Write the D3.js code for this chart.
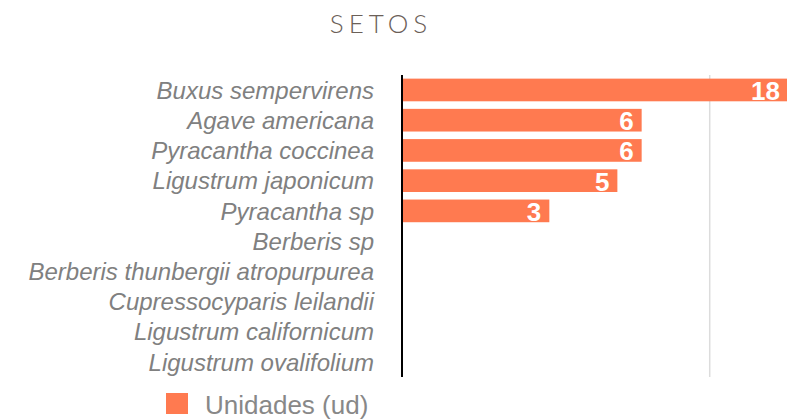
<!DOCTYPE html>
<html><head><meta charset="utf-8">
<script src="https://cdn.jsdelivr.net/npm/d3@7"></script>
<style>body{margin:0;background:#fff}svg{display:block}</style>
</head><body>
<div id="chart"></div>
<script>
const title = "SETOS";
const categories = ["Buxus sempervirens","Agave americana","Pyracantha coccinea","Ligustrum japonicum","Pyracantha sp","Berberis sp","Berberis thunbergii atropurpurea","Cupressocyparis leilandii","Ligustrum californicum","Ligustrum ovalifolium"];
const values = [18,6,6,5,3,null,null,null,null,null];
const gridTicks = [10];
const seriesName = "Unidades (ud)";

const W = 787, H = 420;
const svg = d3.select("#chart").append("svg").attr("width", W).attr("height", H);
const m = {left: 403, top: 75, bottom: 377};
const x = d3.scaleLog().domain([1, 10]).range([m.left, 709.7]);
const y = d3.scaleBand().domain(categories).range([m.top, m.bottom]).paddingInner(0.25).paddingOuter(0.12);
const color = "#ff7a50";

svg.append("text").attr("x", 381).attr("y", 33).attr("text-anchor","middle")
  .attr("font-family","Lato, sans-serif").attr("font-weight",300).attr("font-size",26)
  .attr("letter-spacing","5px").attr("fill","#6b6058").text(title);

svg.append("g").selectAll("line").data(gridTicks).join("line")
  .attr("x1", d=>x(d)).attr("x2", d=>x(d)).attr("y1", m.top).attr("y2", m.bottom)
  .attr("stroke","#dcdcdc").attr("stroke-width",1.5);

const data = categories.map((c,i)=>({c, v: values[i]}));
svg.append("g").selectAll("rect").data(data.filter(d=>d.v)).join("rect")
  .attr("x", m.left).attr("y", d=>y(d.c)).attr("height", y.bandwidth())
  .attr("width", d=>x(d.v)-m.left).attr("fill", color);

svg.append("g").selectAll("text").data(data.filter(d=>d.v)).join("text")
  .attr("x", d=>x(d.v)-8).attr("y", d=>y(d.c)+y.bandwidth()/2).attr("dy","0.38em")
  .attr("text-anchor","end").attr("font-family","'Liberation Sans', Arial, sans-serif")
  .attr("font-weight","bold").attr("font-size",26).attr("fill","#fff").text(d=>d.v);

const yAxis = d3.axisLeft(y).tickSize(0).tickPadding(29);
const ga = svg.append("g").attr("transform",`translate(${m.left},0)`).call(yAxis);
ga.select(".domain").remove();
ga.selectAll("text").attr("font-family","'Liberation Sans', Arial, sans-serif")
  .attr("font-style","italic").attr("font-size",24).attr("fill","#808080").attr("dy","0.36em");
svg.append("line").attr("x1",m.left-1).attr("x2",m.left-1).attr("y1",m.top).attr("y2",m.bottom)
  .attr("stroke","#000").attr("stroke-width",2);

svg.append("rect").attr("x",166).attr("y",393).attr("width",22).attr("height",21).attr("fill",color);
svg.append("text").attr("x",205).attr("y",414).attr("font-family","'Liberation Sans', Arial, sans-serif")
  .attr("font-size",26).attr("fill","#888").text(seriesName);
</script>
</body></html>
